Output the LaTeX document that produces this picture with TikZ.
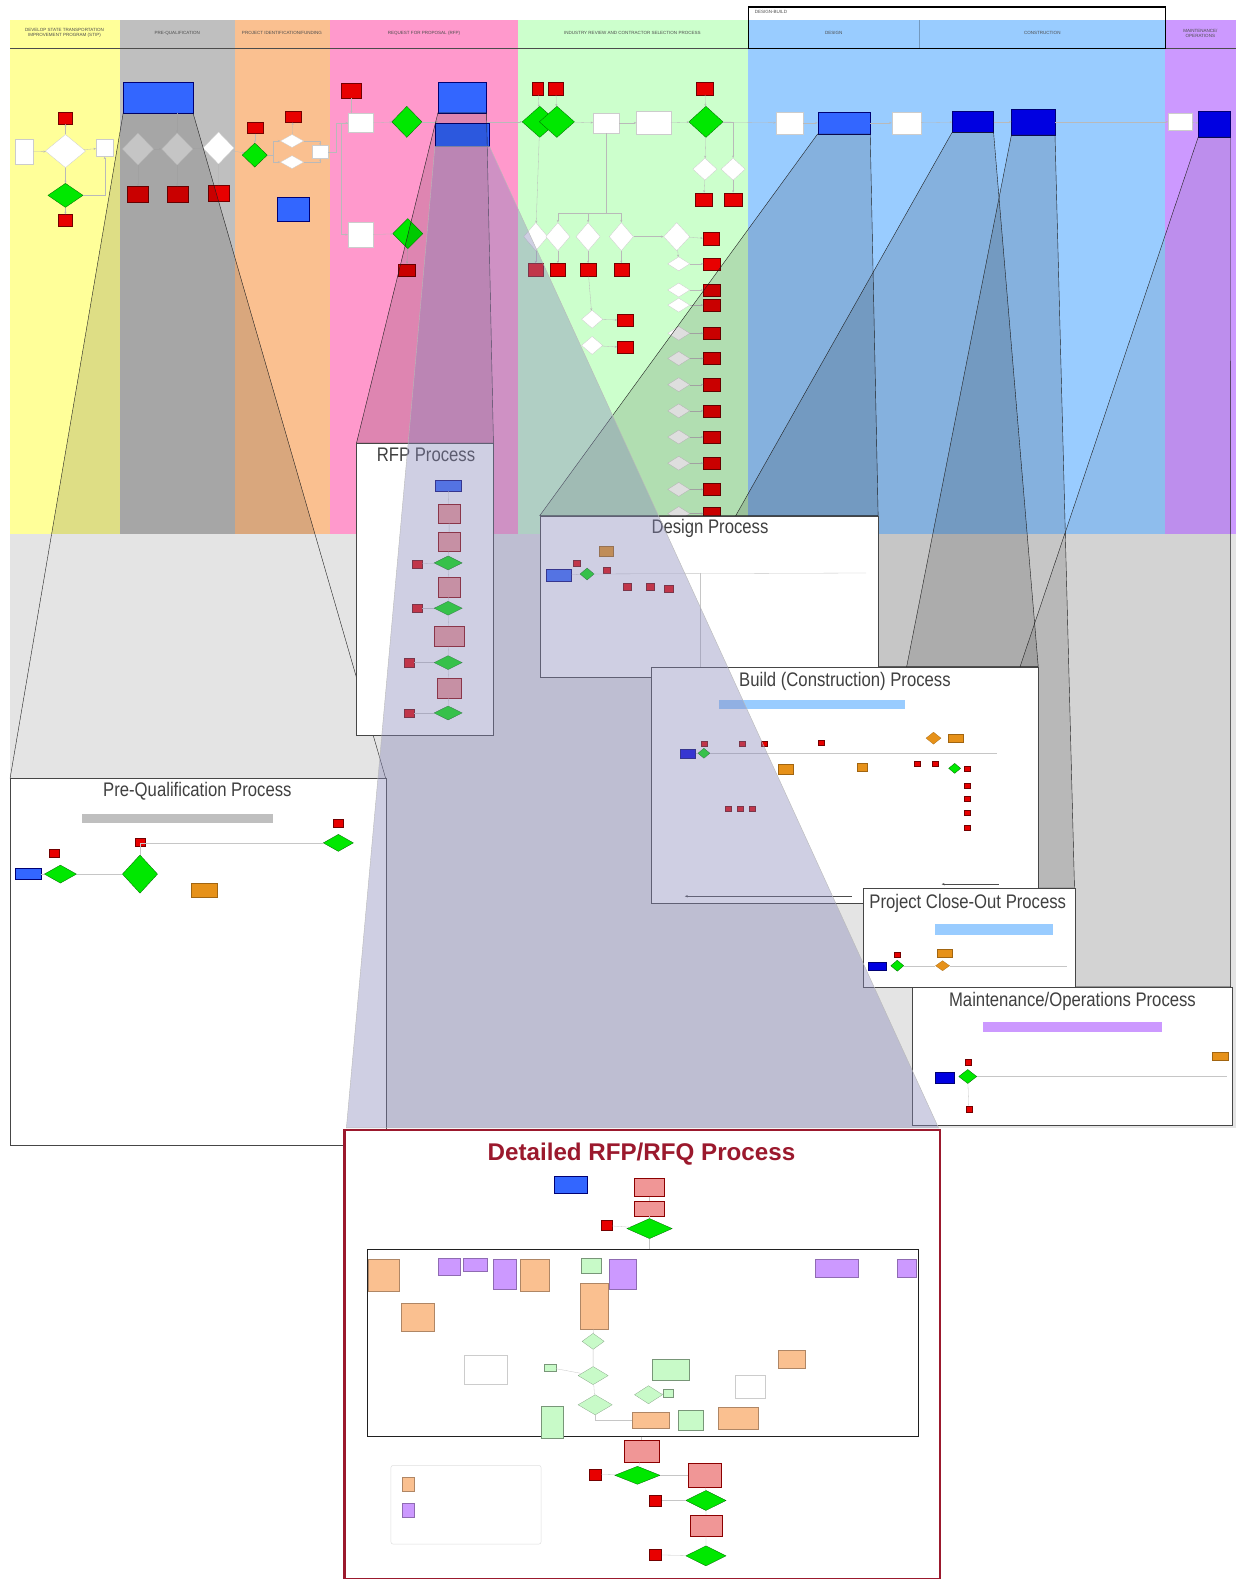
\documentclass[tikz,border=0pt]{standalone}
\usepackage{fontspec}
\setmainfont{Liberation Sans}
\newfontfamily\narrowfont[FakeStretch=0.85]{Liberation Sans}
\usetikzlibrary{shapes.geometric,arrows.meta}

\definecolor{laneyellow}{RGB}{255,255,153}
\definecolor{lanegray}{RGB}{191,191,191}
\definecolor{lanepeach}{RGB}{250,192,144}
\definecolor{lanepink}{RGB}{255,153,204}
\definecolor{lanegreen}{RGB}{204,255,204}
\definecolor{laneblue}{RGB}{153,204,255}
\definecolor{lanepurple}{RGB}{204,153,255}
\definecolor{stopred}{RGB}{232,0,0}
\definecolor{gogreen}{RGB}{0,232,0}
\definecolor{midblue}{RGB}{51,102,255}
\definecolor{deepblue}{RGB}{0,0,225}
\definecolor{stepred}{RGB}{240,150,150}
\definecolor{notepeach}{RGB}{250,192,144}
\definecolor{notepurple}{RGB}{204,153,255}
\definecolor{notegreen}{RGB}{200,250,200}
\definecolor{buildorange}{RGB}{230,145,25}
\definecolor{titlered}{RGB}{155,25,45}
\definecolor{callfill}{RGB}{135,135,185}
\definecolor{bggray}{RGB}{228,228,228}

\begin{document}
\begin{tikzpicture}
  [x=1pt,y=-1pt,
  wh/.style 2 args={minimum width=#1pt,minimum height=#2pt},
  redstop/.style={rectangle,fill=stopred,draw=red!45!black,line width=0.3pt,inner sep=0pt,wh={14}{12}},
  greengate/.style={diamond,fill=gogreen,draw=green!40!black,line width=0.3pt,inner sep=0pt,wh={34}{30}},
  whitetask/.style={rectangle,fill=white,draw=gray!40,line width=0.3pt,inner sep=0pt},
  whitecheck/.style={diamond,fill=white,draw=gray!40,line width=0.3pt,inner sep=0pt},
  graycheck/.style={whitecheck,fill=gray!22},
  bluestart/.style={rectangle,fill=midblue,draw=blue!45!black,line width=0.3pt,inner sep=0pt},
  navystart/.style={bluestart,fill=deepblue},
  pinkstep/.style={rectangle,fill=stepred,draw=red!55!black,line width=0.3pt,inner sep=0pt},
  orangenote/.style={rectangle,fill=notepeach,draw=notepeach!70!black,line width=0.2pt,inner sep=0pt},
  purplenote/.style={orangenote,fill=notepurple,draw=notepurple!70!black},
  greennote/.style={orangenote,fill=notegreen,draw=notegreen!60!black},
  greencheck/.style={diamond,fill=notegreen,draw=notegreen!60!black,line width=0.2pt,inner sep=0pt},
  buildnote/.style={rectangle,fill=buildorange,draw=buildorange!70!black,line width=0.2pt,inner sep=0pt},
  builddec/.style={diamond,fill=buildorange,draw=buildorange!70!black,line width=0.2pt,inner sep=0pt},
  phasebar/.style={rectangle,inner sep=0pt,draw=none},
  panel/.style={rectangle,fill=white,draw=gray!55!black,line width=0.7pt,inner sep=0pt,anchor=north west},
  paneltitle/.style={font=\narrowfont\fontsize{19.5}{22}\selectfont,text=black!75},
  lanehead/.style={font=\fontsize{4.5}{5.2}\selectfont,text=black!70,align=center},
  callout/.style={fill=black,fill opacity=0.13,draw=gray!25!black,line width=0.4pt},
  flow/.style={draw=gray!55,line width=0.3pt,-{Stealth[length=2.4pt,width=2pt]}},
  panelflow/.style={draw=gray!45,line width=0.3pt}]

  \useasboundingbox (0,0) rectangle (1227,1568);

  % grey ground under the swim lanes
  \fill[bggray] (10,530) rectangle (1227,1120);

  % swim lanes
  \fill[laneyellow] (10,20) rectangle (119,530);
  \fill[lanegray] (119,20) rectangle (233,530);
  \fill[lanepeach] (233,20) rectangle (328,530);
  \fill[lanepink] (328,20) rectangle (514,530);
  \fill[lanegreen] (514,20) rectangle (743,530);
  \fill[laneblue] (743,20) rectangle (1157,530);
  \fill[lanepurple] (1157,20) rectangle (1227,530);
  \draw[gray!60!black,line width=0.4pt] (10,48) -- (1227,48);
  \draw[laneblue!75!black,line width=0.3pt] (913,20) -- (913,48);
  \draw[line width=1.2pt] (743,7) rectangle (1157,48);

  \node[lanehead] (lh-dev) at (64,33) {DEVELOP STATE TRANSPORTATION\\IMPROVEMENT PROGRAM (STIP)};
  \node[lanehead] (lh-pq) at (176,33) {PRE-QUALIFICATION};
  \node[lanehead] (lh-pf) at (280,33) {PROJECT IDENTIFICATION/FUNDING};
  \node[lanehead] (lh-rfp) at (421,33) {REQUEST FOR PROPOSAL (RFP)};
  \node[lanehead] (lh-ir) at (628,33) {INDUSTRY REVIEW AND CONTRACTOR SELECTION PROCESS};
  \node[lanehead] (lh-ds) at (828,33) {DESIGN};
  \node[lanehead] (lh-cn) at (1035,33) {CONSTRUCTION};
  \node[lanehead] (lh-mo) at (1192,33) {MAINTENANCE/\\OPERATIONS};
  \node[lanehead,anchor=west] (lh-db) at (746,12) {DESIGN-BUILD};

  % development lane
  \node[whitetask,wh={18}{25}] (dv-in) at (24,151) {};
  \node[whitecheck,wh={40}{33}] (dv-q) at (65,150) {};
  \node[redstop] (dv-s1) at (65,117) {};
  \node[whitetask,wh={17}{17}] (dv-out) at (104,147) {};
  \node[greengate,wh={35}{24}] (dv-ok) at (65,194) {};
  \node[redstop] (dv-s2) at (65,219) {};
  \draw[flow] (dv-in) -- (dv-q);
  \draw[flow] (dv-q) -- (dv-s1);
  \draw[flow] (dv-q) -- (dv-ok);
  \draw[flow] (dv-ok) -- (dv-s2);
  \draw[flow] (dv-q) -- (dv-out);
  \draw[flow] (dv-ok.east) -| (dv-out.south);

  % pre-qualification lane
  \node[bluestart,wh={69}{30}] (pq-start) at (157,97) {};
  \node[graycheck,wh={31}{32}] (pq-q1) at (137,148) {};
  \node[graycheck,wh={31}{32}] (pq-q2) at (176,148) {};
  \node[whitecheck,wh={31}{32}] (pq-q3) at (217,147) {};
  \node[redstop,wh={21}{16}] (pq-s1) at (137,193) {};
  \node[redstop,wh={21}{16}] (pq-s2) at (176,193) {};
  \node[redstop,wh={21}{16}] (pq-s3) at (217,192) {};
  \draw[flow] (pq-start.south -| pq-q2) -- (pq-q2);
  \draw[flow] (pq-q1) -- (pq-q2);
  \draw[flow] (pq-q2) -- (pq-q3);
  \draw[flow] (pq-q1) -- (pq-s1);
  \draw[flow] (pq-q2) -- (pq-s2);
  \draw[flow] (pq-q3) -- (pq-s3);

  % project funding lane
  \node[redstop,wh={16}{11}] (pf-s1) at (253,127) {};
  \node[greengate,wh={25}{24}] (pf-ok) at (253,154) {};
  \node[redstop,wh={16}{11}] (pf-s2) at (291,116) {};
  \node[whitecheck,wh={23}{13}] (pf-q1) at (290,140) {};
  \node[whitecheck,wh={23}{13}] (pf-q2) at (290,161) {};
  \node[whitetask,wh={16}{13}] (pf-out) at (318,151) {};
  \node[bluestart,wh={32}{24}] (pf-fund) at (291,208) {};
  \draw[flow] (pq-q3) -- (pf-ok);
  \draw[flow] (pf-s1) -- (pf-ok);
  \draw[flow] (pf-ok.east) -- ++(6,0) |- (pf-q1);
  \draw[flow] (pf-ok.east) -- ++(6,0) |- (pf-q2);
  \draw[flow] (pf-q1) -- (pf-s2);
  \draw[flow] (pf-q1.east) -| (pf-out.north);
  \draw[flow] (pf-q2.east) -| (pf-out.south);

  % RFP lane
  \node[redstop,wh={20}{15}] (rf-s1) at (349,90) {};
  \node[whitetask,wh={25}{19}] (rf-a) at (358,122) {};
  \node[greengate,wh={30}{31}] (rf-ok1) at (404,121) {};
  \node[bluestart,wh={48}{30}] (rf-draft) at (459,97) {};
  \node[bluestart,wh={54}{23}] (rf-issue) at (459,134) {};
  \node[whitetask,wh={25}{24}] (rf-b) at (358,233) {};
  \node[greengate,wh={30}{30}] (rf-ok2) at (405,232) {};
  \node[redstop,wh={17}{12}] (rf-s2) at (404,268) {};
  \draw[flow] (pf-out.east) -- ++(8,0) |- (rf-a);
  \draw[flow] (rf-s1) -- (rf-s1 |- rf-a.north);
  \draw[flow] (rf-a.west) -- ++(-7,0) |- (rf-b);
  \draw[flow] (rf-a) -- (rf-ok1);
  \draw[flow] (rf-ok1) -- (rf-draft.west |- rf-ok1);
  \draw[flow] (rf-b) -- (rf-ok2);
  \draw[flow] (rf-ok2) -- (rf-s2);

  % industry review and contractor selection lane
  \node[redstop,wh={11}{12}] (ir-s1) at (534,88) {};
  \node[redstop,wh={15}{12}] (ir-s2) at (552,88) {};
  \node[greengate,wh={35}{31}] (ir-ok1) at (536,121) {};
  \node[greengate,wh={35}{31}] (ir-ok2) at (553,121) {};
  \node[whitetask,wh={26}{20}] (ir-a) at (602,122) {};
  \node[whitetask,wh={34}{23}] (ir-b) at (649,122) {};
  \node[redstop,wh={17}{12}] (ir-s3) at (700,88) {};
  \node[greengate,wh={34}{31}] (ir-ok3) at (701,121) {};
  \node[whitecheck,wh={24}{22}] (ir-q1) at (700,168) {};
  \node[whitecheck,wh={24}{22}] (ir-q2) at (728,168) {};
  \node[redstop,wh={17}{13}] (ir-s4) at (699,198) {};
  \node[redstop,wh={17}{13}] (ir-s5) at (728,198) {};
  \draw[flow] (rf-draft.east |- ir-ok1) -- (ir-ok1);
  \draw[flow] (ir-s1) -- (ir-ok1);
  \draw[flow] (ir-s2) -- (ir-ok2);
  \draw[flow] (ir-ok2) -- (ir-a);
  \draw[flow] (ir-a) -- (ir-b);
  \draw[flow] (ir-b) -- (ir-ok3);
  \draw[flow] (ir-s3) -- (ir-ok3);
  \draw[flow] (ir-ok3) -- (ir-q1);
  \draw[flow] (ir-ok3.east) -| (ir-q2);
  \draw[flow] (ir-q1) -- (ir-s4);
  \draw[flow] (ir-q2) -- (ir-s5);
  \foreach \x/\n in {532/1,554/2,584/3,617/4} {
    \node[whitecheck,wh={24}{28}] (ir-m\n) at (\x,235) {};
    \node[redstop,wh={15}{13}] (ir-r\n) at (\x,268) {};
    \draw[flow] (ir-m\n) -- (ir-r\n);
  }
  \node[whitecheck,wh={26}{28}] (ir-m5) at (672,235) {};
  \node[redstop,wh={16}{12}] (ir-r5) at (706,237) {};
  \draw[flow] (ir-ok1) -- (ir-m1);
  \draw[flow] (ir-a.south) -- ++(0,80) -| (ir-m2);
  \draw[flow] (ir-a.south) -- ++(0,80) -| (ir-m3);
  \draw[flow] (ir-a.south) -- ++(0,80) -| (ir-m4);
  \draw[flow] (ir-m4) -- (ir-m5);
  \draw[flow] (ir-m5) -- (ir-r5);
  \node[whitecheck,wh={21}{18}] (ir-l1) at (588,317) {};
  \node[whitecheck,wh={21}{18}] (ir-l2) at (588,343) {};
  \node[redstop,wh={16}{12}] (ir-lr1) at (621,318) {};
  \node[redstop,wh={16}{12}] (ir-lr2) at (621,345) {};
  \draw[flow] (ir-r3) -- (ir-l1);
  \draw[flow] (ir-l1) -- (ir-lr1);
  \draw[flow] (ir-l2) -- (ir-lr2);
  \foreach \y [count=\i] in {262,288,303,331,356,382,408,434,460,486,510} {
    \node[whitecheck,wh={22}{14}] (ir-c\i) at (674,\y) {};
    \node[redstop,wh={17}{12}] (ir-cs\i) at (707,\y) {};
    \draw[flow] (ir-c\i) -- (ir-cs\i);
  }
  \draw[flow] (ir-m5) -- (ir-c1);

  % design, construction and maintenance lanes
  \node[whitetask,wh={27}{22}] (ds-a) at (784,122) {};
  \node[bluestart,wh={52}{22}] (ds-start) at (838,122) {};
  \node[whitetask,wh={29}{22}] (ds-b) at (900,122) {};
  \node[navystart,wh={41}{21}] (cn-start) at (966,121) {};
  \node[navystart,wh={43}{26}] (co-start) at (1026,121) {};
  \node[whitetask,wh={24}{17}] (mo-a) at (1172,121) {};
  \node[navystart,wh={32}{26}] (mo-start) at (1206,123) {};
  \draw[flow] (ir-ok3) -- (ds-a);
  \draw[flow] (ds-a) -- (ds-start);
  \draw[flow] (ds-start) -- (ds-b);
  \draw[flow] (ds-b) -- (cn-start);
  \draw[flow] (cn-start) -- (co-start);
  \draw[flow] (co-start) -- (mo-a);
  \draw[flow] (mo-a) -- (mo-start);

  % zoom call-outs
  \begin{scope}
    \clip (10,20) rectangle (1227,530);
    \fill[black,fill opacity=0.13] (pq-start.south west) -- (pq-start.south east) -- (383,773) -- (10,773) -- cycle;
  \end{scope}
  \draw[gray!25!black,line width=0.4pt] (pq-start.south west) -- (10,773) (pq-start.south east) -- (383,773);
  \filldraw[callout] (rf-draft.south west) -- (rf-draft.south east) -- (490,440) -- (354,440) -- cycle;
  \filldraw[callout] (ds-start.south west) -- (ds-start.south east) -- (872,512) -- (536,512) -- cycle;
  \filldraw[callout] (cn-start.south west) -- (cn-start.south east) -- (1031,662) -- (646,662) -- cycle;
  \filldraw[callout] (co-start.south west) -- (co-start.south east) -- (1067,882) -- (857,882) -- cycle;
  \filldraw[callout,fill opacity=0.07] (mo-start.south west) -- (mo-start.south east) -- (1222,980) -- (906,980) -- cycle;

  % Pre-Qualification panel
  \node[panel,wh={373}{364}] (pq-panel) at (10,773) {};
  \node[paneltitle] (pq-title) at (196,786) {Pre-Qualification Process};
  \node[phasebar,fill=lanegray,wh={190}{9}] (pq-bar) at (176,813) {};
  \node[bluestart,wh={25}{11}] (pq-in) at (28,868) {};
  \node[greengate,wh={32}{18}] (pq-g1) at (60,868) {};
  \node[redstop,wh={10}{8}] (pq-r1) at (54,847) {};
  \node[greengate,wh={35}{38}] (pq-g2) at (139,868) {};
  \node[redstop,wh={10}{8}] (pq-r2) at (139,836) {};
  \node[buildnote,wh={26}{14}] (pq-o1) at (203,884) {};
  \node[greengate,wh={30}{17}] (pq-g3) at (336,837) {};
  \node[redstop,wh={10}{8}] (pq-r3) at (336,817) {};
  \draw[panelflow] (pq-in) -- (pq-g1);
  \draw[panelflow] (pq-g1) -- (pq-g2);
  \draw[panelflow] (pq-g2.north) |- (pq-g3);

  % RFP panel
  \node[panel,wh={136}{290}] (rp-panel) at (354,440) {};
  \node[paneltitle] (rp-title) at (423,452) {RFP Process};
  \node[bluestart,wh={25}{11}] (rp-in) at (445,482) {};
  \node[pinkstep,wh={22}{19}] (rp-p1) at (446,510) {};
  \node[pinkstep,wh={22}{19}] (rp-p2) at (446,538) {};
  \node[greengate,wh={28}{14}] (rp-g1) at (445,559) {};
  \node[redstop,wh={10}{8}] (rp-r1) at (414,560) {};
  \node[pinkstep,wh={22}{20}] (rp-p3) at (446,583) {};
  \node[greengate,wh={28}{14}] (rp-g2) at (445,604) {};
  \node[redstop,wh={10}{8}] (rp-r2) at (414,604) {};
  \node[pinkstep,wh={29}{20}] (rp-p4) at (446,632) {};
  \node[greengate,wh={28}{14}] (rp-g3) at (445,658) {};
  \node[redstop,wh={10}{8}] (rp-r3) at (406,658) {};
  \node[pinkstep,wh={23}{20}] (rp-p5) at (446,683) {};
  \node[greengate,wh={28}{14}] (rp-g4) at (445,708) {};
  \node[redstop,wh={10}{8}] (rp-r4) at (406,708) {};
  \draw[panelflow] (rp-in) -- (rp-p1) -- (rp-p2) -- (rp-g1) -- (rp-p3) -- (rp-g2) -- (rp-p4) -- (rp-g3) -- (rp-p5) -- (rp-g4);
  \draw[panelflow] (rp-g1) -- (rp-r1);
  \draw[panelflow] (rp-g2) -- (rp-r2);
  \draw[panelflow] (rp-g3) -- (rp-r3);
  \draw[panelflow] (rp-g4) -- (rp-r4);

  % Design panel
  \node[panel,wh={336}{160}] (dp-panel) at (536,512) {};
  \node[paneltitle] (dp-title) at (705,525) {Design Process};
  \node[bluestart,wh={25}{12}] (dp-in) at (555,571) {};
  \node[greengate,wh={14}{12}] (dp-g1) at (583,570) {};
  \node[buildnote,wh={14}{10}] (dp-o1) at (602,547) {};
  \node[redstop,wh={7}{6}] (dp-r1) at (573,559) {};
  \node[redstop,wh={7}{6}] (dp-r2) at (602,566) {};
  \node[redstop,wh={8}{7}] (dp-r3) at (623,583) {};
  \node[redstop,wh={8}{7}] (dp-r4) at (646,583) {};
  \node[redstop,wh={8}{7}] (dp-r5) at (664,585) {};
  \coordinate (dp-end) at (860,569);
  \coordinate (dp-tee) at (695,569);
  \coordinate (dp-down) at (695,662);
  \draw[panelflow] (dp-in) -- (dp-g1);
  \draw[panelflow] (dp-g1) -- (dp-end);
  \draw[panelflow] (dp-tee) -- (dp-down);

  % Build (Construction) panel
  \node[panel,wh={385}{235}] (bp-panel) at (646,662) {};
  \node[paneltitle] (bp-title) at (839,677) {Build (Construction) Process};
  \node[phasebar,fill=laneblue,wh={185}{9}] (bp-bar) at (806,700) {};
  \node[navystart,wh={15}{9}] (bp-in) at (683,748) {};
  \node[greengate,wh={12}{10}] (bp-g1) at (699,748) {};
  \foreach \x/\y [count=\i] in {699/738,737/738,759/738,815/737,911/758,929/758,960/763,960/780,960/793,960/807,960/822,723/803,735/803,747/803} {
    \node[redstop,wh={6}{5}] (bp-r\i) at (\x,\y) {};
  }
  \node[buildnote,wh={15}{10}] (bp-o1) at (780,764) {};
  \node[buildnote,wh={10}{8}] (bp-o2) at (856,762) {};
  \node[builddec,wh={15}{12}] (bp-d1) at (927,733) {};
  \node[buildnote,wh={15}{8}] (bp-o3) at (949,733) {};
  \node[greengate,wh={12}{10}] (bp-g2) at (948,763) {};
  \coordinate (bp-end) at (990,748);
  \coordinate (bp-a1) at (680,890);
  \coordinate (bp-a2) at (846,890);
  \coordinate (bp-a3) at (935,878);
  \coordinate (bp-a4) at (992,878);
  \draw[panelflow] (bp-in) -- (bp-g1);
  \draw[panelflow] (bp-g1) -- (bp-end);
  \draw[gray!60!black,line width=0.5pt,-{Stealth[length=3pt]}] (bp-a2) -- (bp-a1);
  \draw[gray!60!black,line width=0.5pt,-{Stealth[length=3pt]}] (bp-a4) -- (bp-a3);

  % Project Close-Out panel
  \node[panel,wh={210}{98}] (cp-panel) at (857,882) {};
  \node[paneltitle] (cp-title) at (961,897) {Project Close-Out Process};
  \node[phasebar,fill=laneblue,wh={118}{10}] (cp-bar) at (987,923) {};
  \node[navystart,wh={18}{8}] (cp-in) at (871,959) {};
  \node[greengate,wh={13}{11}] (cp-g1) at (891,959) {};
  \node[redstop,wh={6}{5}] (cp-r1) at (891,948) {};
  \node[buildnote,wh={14}{8}] (cp-o1) at (938,946) {};
  \node[builddec,wh={14}{10}] (cp-d1) at (936,959) {};
  \coordinate (cp-end) at (1060,959);
  \draw[panelflow] (cp-g1) -- (cp-d1);
  \draw[panelflow] (cp-d1) -- (cp-end);

  % Maintenance/Operations panel
  \node[panel,wh={317}{137}] (mp-panel) at (906,980) {};
  \node[paneltitle] (mp-title) at (1065,994) {Maintenance/Operations Process};
  \node[phasebar,fill=lanepurple,wh={178}{10}] (mp-bar) at (1065,1020) {};
  \node[navystart,wh={19}{11}] (mp-in) at (938,1070) {};
  \node[greengate,wh={18}{14}] (mp-g1) at (961,1069) {};
  \node[redstop,wh={6}{6}] (mp-r1) at (961,1055) {};
  \node[redstop,wh={6}{6}] (mp-r2) at (962,1101) {};
  \node[buildnote,wh={16}{8}] (mp-o1) at (1212,1049) {};
  \coordinate (mp-end) at (1218,1069);
  \draw[panelflow] (mp-g1) -- (mp-end);
  \draw[panelflow] (mp-g1) -- (mp-r2);

  % call-out to the detailed RFP/RFQ process
  \filldraw[fill=callfill,fill opacity=0.4,draw=gray!55,line width=0.4pt]
    (rf-issue.south west) -- (rf-issue.south east) -- (932,1120) -- (344,1120) -- cycle;

  % Detailed RFP/RFQ panel
  \node[panel,draw=titlered,line width=2.5pt,wh={591}{446}] (dt-panel) at (341,1121) {};
  \node[font=\bfseries\fontsize{24}{28}\selectfont,text=titlered] (dt-title) at (637,1146) {Detailed RFP/RFQ Process};
  \node[bluestart,wh={33}{17}] (dt-in) at (567,1176) {};
  \node[pinkstep,wh={30}{18}] (dt-p1) at (645,1179) {};
  \node[pinkstep,wh={30}{15}] (dt-p2) at (645,1200) {};
  \node[greengate,wh={45}{20}] (dt-g1) at (645,1220) {};
  \node[redstop,wh={11}{10}] (dt-r1) at (602,1217) {};
  \node[draw=gray!25!black,line width=0.6pt,wh={548}{186},anchor=north west,inner sep=0pt] (dt-frame) at (364,1240) {};
  \node[orangenote,wh={30}{32}] (dt-o1) at (381,1266) {};
  \node[orangenote,wh={33}{28}] (dt-o2) at (415,1308) {};
  \node[orangenote,wh={29}{32}] (dt-o3) at (531,1266) {};
  \node[orangenote,wh={27}{46}] (dt-o4) at (590,1297) {};
  \node[orangenote,wh={37}{16}] (dt-o5) at (646,1410) {};
  \node[orangenote,wh={40}{22}] (dt-o6) at (733,1408) {};
  \node[orangenote,wh={27}{18}] (dt-o7) at (786,1350) {};
  \node[purplenote,wh={22}{17}] (dt-v1) at (446,1258) {};
  \node[purplenote,wh={24}{13}] (dt-v2) at (472,1256) {};
  \node[purplenote,wh={23}{30}] (dt-v3) at (501,1265) {};
  \node[purplenote,wh={27}{30}] (dt-v4) at (618,1265) {};
  \node[purplenote,wh={43}{18}] (dt-v5) at (831,1259) {};
  \node[purplenote,wh={19}{18}] (dt-v6) at (900,1259) {};
  \node[greennote,wh={20}{15}] (dt-n1) at (587,1257) {};
  \node[greennote,wh={36}{20}] (dt-n2) at (666,1360) {};
  \node[greennote,wh={25}{20}] (dt-n3) at (686,1410) {};
  \node[greennote,wh={22}{32}] (dt-n4) at (548,1412) {};
  \node[greennote,wh={12}{7}] (dt-n5) at (546,1358) {};
  \node[greennote,wh={10}{8}] (dt-n6) at (663,1383) {};
  \node[greencheck,wh={22}{16}] (dt-c1) at (589,1332) {};
  \node[greencheck,wh={30}{18}] (dt-c2) at (589,1366) {};
  \node[greencheck,wh={34}{20}] (dt-c3) at (591,1395) {};
  \node[greencheck,wh={28}{18}] (dt-c4) at (644,1385) {};
  \node[whitetask,wh={43}{28}] (dt-w1) at (482,1360) {};
  \node[whitetask,wh={30}{23}] (dt-w2) at (745,1377) {};
  \draw[panelflow] (dt-o4) -- (dt-c1) -- (dt-c2) -- (dt-c3);
  \draw[panelflow] (dt-c3.south) |- (dt-o5);
  \draw[panelflow] (dt-c4) -- (dt-n6);
  \draw[panelflow] (dt-c2) -- (dt-n5);

  \node[pinkstep,wh={35}{22}] (dt-p3) at (637,1441) {};
  \node[greengate,wh={45}{18}] (dt-g2) at (633,1465) {};
  \node[redstop,wh={12}{11}] (dt-r2) at (591,1464) {};
  \node[pinkstep,wh={33}{24}] (dt-p4) at (700,1465) {};
  \node[greengate,wh={40}{20}] (dt-g3) at (701,1490) {};
  \node[redstop,wh={12}{11}] (dt-r3) at (651,1490) {};
  \node[pinkstep,wh={32}{21}] (dt-p5) at (701,1515) {};
  \node[greengate,wh={40}{20}] (dt-g4) at (701,1545) {};
  \node[redstop,wh={12}{11}] (dt-r4) at (651,1544) {};
  \draw[panelflow] (dt-p1) -- (dt-p2) -- (dt-g1);
  \draw[panelflow] (dt-g1) -- (dt-r1);
  \draw[panelflow] (dt-g1) -- (dt-g1 |- dt-frame.north);
  \draw[panelflow] (dt-p3 |- dt-frame.south) -- (dt-p3);
  \draw[panelflow] (dt-p3) -- (dt-g2);
  \draw[panelflow] (dt-g2) -- (dt-r2);
  \draw[panelflow] (dt-g2) -- (dt-p4);
  \draw[panelflow] (dt-p4) -- (dt-g3) -- (dt-p5) -- (dt-g4);
  \draw[panelflow] (dt-g3) -- (dt-r3);
  \draw[panelflow] (dt-g4) -- (dt-r4);

  % legend
  \node[draw=gray!25,line width=0.5pt,rounded corners=2pt,wh={149}{78},anchor=north west,inner sep=0pt] (dt-legend) at (388,1455) {};
  \node[orangenote,wh={12}{14}] (dt-key1) at (405,1474) {};
  \node[purplenote,wh={12}{14}] (dt-key2) at (405,1500) {};

\end{tikzpicture}
\end{document}
